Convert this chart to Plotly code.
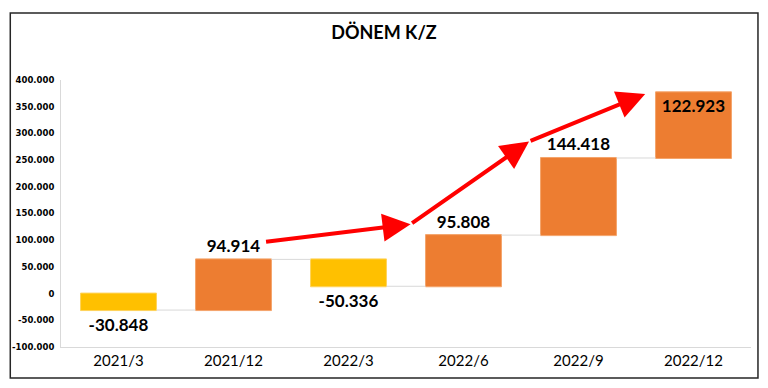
import plotly.graph_objects as go

categories = ["2021/3", "2021/12", "2022/3", "2022/6", "2022/9", "2022/12"]
values = [-30848, 94914, -50336, 95808, 144418, 122923]
label_positions = ["outside", "outside", "outside", "outside", "outside", "inside"]

# arrows in data coordinates: (x_start, y_start, x_end, y_end)
arrows = [
    (1.27, 96600, 2.54, 130000),
    (2.54, 130000, 3.57, 285000),
    (3.57, 285000, 4.58, 374000),
]

tick_vals = [-100000, -50000, 0, 50000, 100000, 150000, 200000, 250000, 300000, 350000, 400000]
tick_text = ["-100.000", "-50.000", "0", "50.000", "100.000", "150.000", "200.000",
             "250.000", "300.000", "350.000", "400.000"]

fig = go.Figure()
fig.add_trace(go.Waterfall(
    x=categories,
    y=values,
    measure=["relative"] * len(values),
    text=[f"{v:,}".replace(",", ".") for v in values],
    textposition=label_positions,
    textfont=dict(family="Lato", size=17, color="black", weight="bold"),
    insidetextanchor="end",
    increasing=dict(marker=dict(color="#ED7D31", line=dict(color="#F4A46B", width=1))),
    decreasing=dict(marker=dict(color="#FFC000", line=dict(color="#FFD35A", width=1))),
    connector=dict(line=dict(color="#D9D9D9", width=1)),
    cliponaxis=False,
    showlegend=False,
))

for x0, y0, x1, y1 in arrows:
    fig.add_annotation(
        x=x1, y=y1, ax=x0, ay=y0,
        xref="x", yref="y", axref="x", ayref="y",
        showarrow=True, arrowhead=2, arrowsize=1.4, arrowwidth=4,
        arrowcolor="#FF0000", text="",
    )

fig.add_shape(type="rect", xref="paper", yref="paper",
              x0=-0.0735, x1=1.0101, y0=-0.116, y1=1.251,
              line=dict(color="#262626", width=1.5), fillcolor="rgba(0,0,0,0)",
              layer="below")

fig.update_layout(
    width=768, height=388,
    margin=dict(l=57, r=17, t=80, b=41),
    paper_bgcolor="white", plot_bgcolor="white",
    separators=",.",
    waterfallgap=0.34,
    title=dict(text="<b>DÖNEM K/Z</b>", x=0.5, xref="container", xanchor="center",
               y=1 - 33 / 388, yref="container", yanchor="middle",
               font=dict(family="Lato", size=18, color="black")),
    xaxis=dict(
        type="category", showgrid=False, showline=True, linecolor="#D9D9D9", linewidth=1,
        tickfont=dict(family="Lato", size=15, color="black"), ticks="",
    ),
    yaxis=dict(
        range=[-100000, 400000], tickvals=tick_vals, ticktext=tick_text,
        showgrid=False, zeroline=False, showline=True, linecolor="#D9D9D9", linewidth=1,
        tickfont=dict(family="DejaVu Sans", size=8.5, color="black", weight="bold"),
        ticks="", ticklabelstandoff=4,
    ),
)

fig.write_html("out.html", config={"displayModeBar": False},
               post_script="document.body.style.margin='0';document.body.style.overflow='hidden';")
